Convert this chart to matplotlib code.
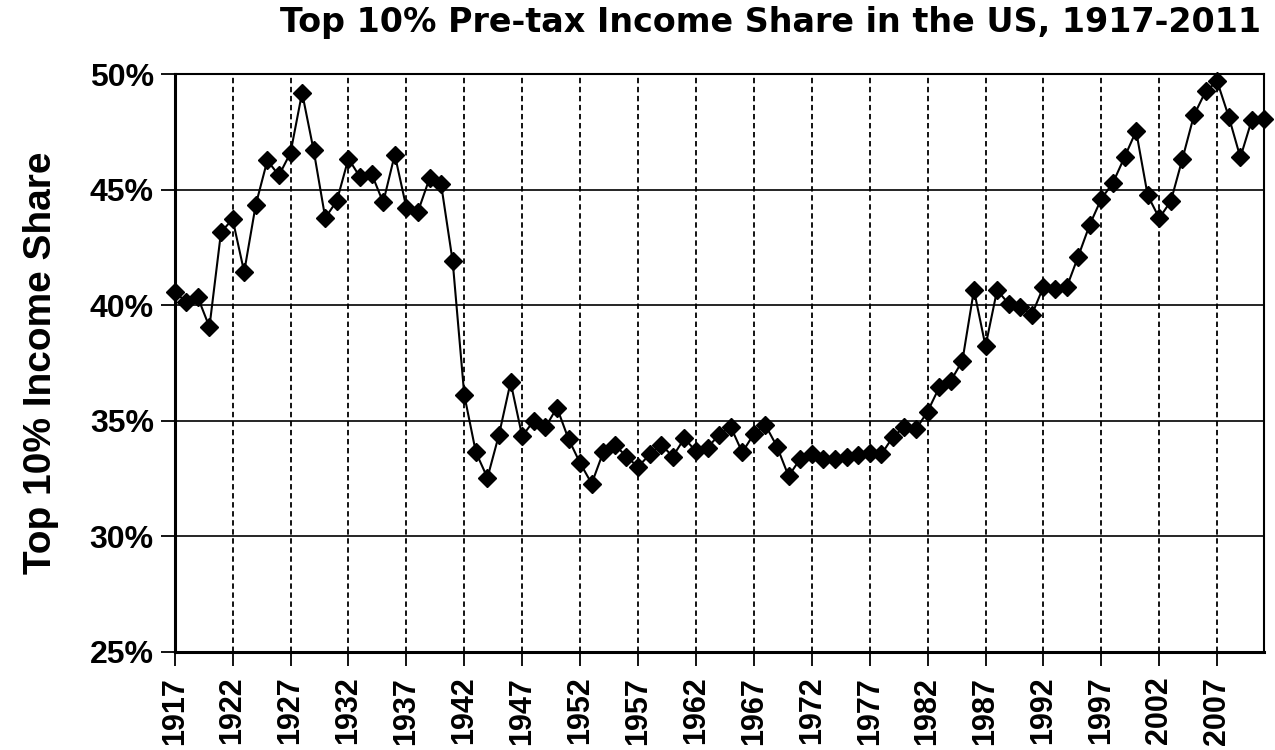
import matplotlib
matplotlib.use("Agg")
import matplotlib.pyplot as plt
from matplotlib.font_manager import FontProperties
import numpy as np

# Top 10% pre-tax income share
years = np.arange(1917, 2012)
share = [
    40.56, 40.16, 40.34, 39.06, 43.16, 43.73, 41.44, 44.35, 46.27, 45.62,   # 1917-1926
    46.60, 49.20, 46.70, 43.78, 44.52, 46.35, 45.55, 45.69, 44.45, 46.52,   # 1927-1936
    44.23, 44.05, 45.49, 45.24, 41.90, 36.12, 33.64, 32.53, 34.40, 36.67,   # 1937-1946
    34.33, 35.00, 34.71, 35.57, 34.21, 33.17, 32.28, 33.64, 33.96, 33.45,   # 1947-1956
    33.00, 33.54, 33.97, 33.45, 34.24, 33.68, 33.83, 34.40, 34.74, 33.63,   # 1957-1966
    34.43, 34.81, 33.88, 32.60, 33.35, 33.57, 33.35, 33.35, 33.43, 33.50,   # 1967-1976
    33.60, 33.54, 34.30, 34.73, 34.63, 35.40, 36.44, 36.73, 37.59, 40.66,   # 1977-1986
    38.23, 40.66, 40.06, 39.94, 39.59, 40.80, 40.69, 40.77, 42.11, 43.49,   # 1987-1996
    44.61, 45.30, 46.41, 47.54, 44.76, 43.77, 44.51, 46.34, 48.23, 49.26,   # 1997-2006
    49.69, 48.16, 46.40, 48.04, 48.06,                                      # 2007-2011
]
tick_years = np.arange(1917, 2012, 5)
y_ticks = [25, 30, 35, 40, 45, 50]

def arial_bold(size):
    return FontProperties(family="Liberation Sans", weight="bold",
                          stretch="normal", size=size)

fig = plt.figure(figsize=(12.75, 7.5), dpi=100)
ax = fig.add_axes([0.137, 0.131, 0.854, 0.770])

ax.plot(years, share, color="black", linewidth=1.5, marker="D",
        markersize=9, markerfacecolor="black", markeredgecolor="black",
        zorder=3, clip_on=False)

ax.set_xlim(1917, 2011)
ax.set_ylim(25, 50)

# grid: solid horizontal, dashed vertical
for y in y_ticks[1:]:
    ax.axhline(y, color="black", linewidth=1.2, zorder=1)
for x in tick_years[1:]:
    ax.axvline(x, color="black", linewidth=1.3, linestyle=(0, (3, 2)), zorder=1)

ax.set_xticks(tick_years)
ax.set_xticklabels([str(y) for y in tick_years], rotation=90,
                   fontproperties=arial_bold(22))
ax.set_yticks(y_ticks)
ax.set_yticklabels([f"{y}%" for y in y_ticks], fontproperties=arial_bold(23))
ax.tick_params(axis="both", direction="out", length=10, width=1.3,
               color="black")
ax.tick_params(axis="y", pad=5)
ax.tick_params(axis="x", pad=8)

for side in ["left", "bottom"]:
    ax.spines[side].set_linewidth(2.2)
for side in ["top", "right"]:
    ax.spines[side].set_linewidth(1.5)

ax.set_ylabel("Top 10% Income Share", fontproperties=arial_bold(28),
              labelpad=22)

fig.text(0.989, 0.97, "Top 10% Pre-tax Income Share in the US, 1917-2011",
         ha="right", va="center", fontsize=24, fontweight="bold",
         family="DejaVu Sans")

fig.savefig("out.png", dpi=100)
